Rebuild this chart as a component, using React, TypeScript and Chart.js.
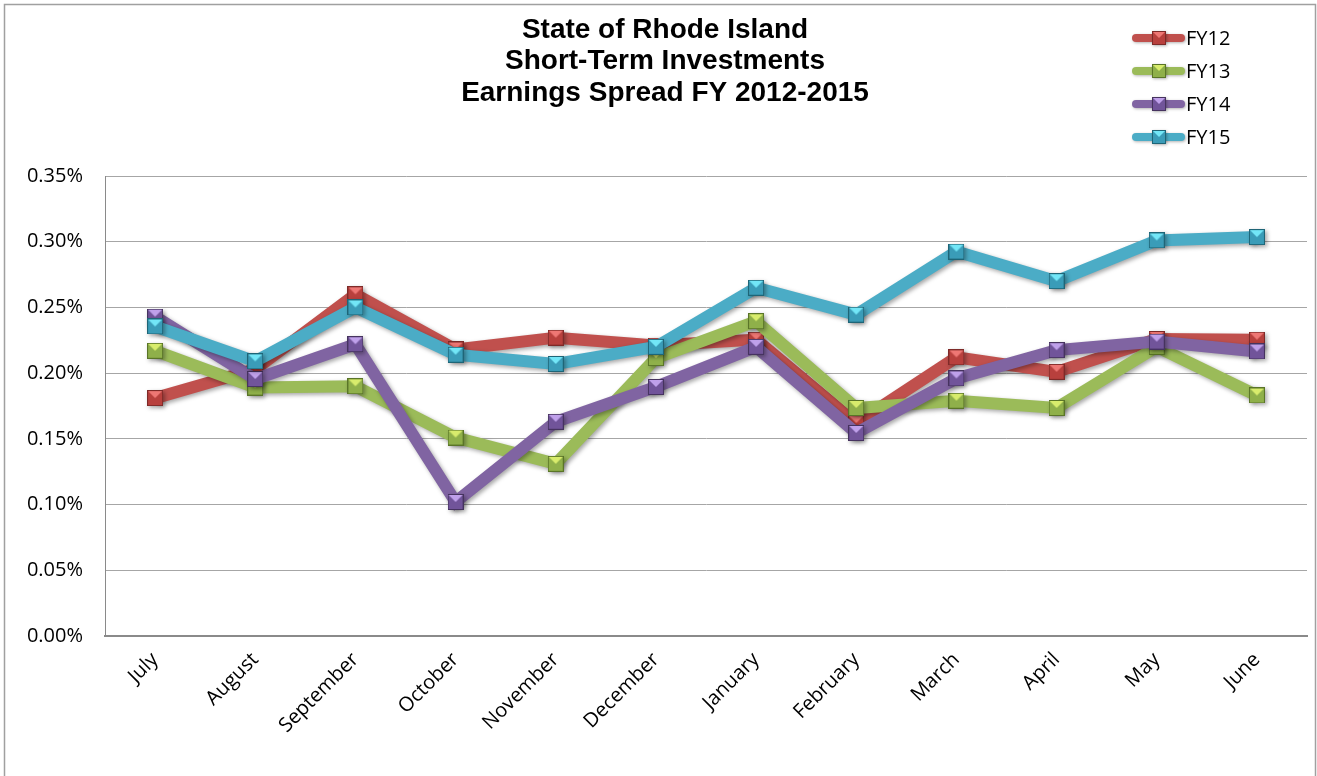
import React, { useEffect, useRef } from "react";
import { Chart, registerables } from "chart.js";

Chart.register(...registerables);

const months = ["July", "August", "September", "October", "November", "December", "January", "February", "March", "April", "May", "June"];
const seriesNames = ["FY12", "FY13", "FY14", "FY15"];
const fy12 = [0.181, 0.203, 0.26, 0.218, 0.227, 0.221, 0.2255, 0.162, 0.212, 0.201, 0.226, 0.2255];
const fy13 = [0.217, 0.189, 0.19, 0.151, 0.131, 0.2115, 0.2395, 0.1735, 0.179, 0.1735, 0.22, 0.183];
const fy14 = [0.243, 0.1955, 0.222, 0.102, 0.163, 0.1895, 0.22, 0.1545, 0.196, 0.2175, 0.224, 0.2165];
const fy15 = [0.2355, 0.209, 0.25, 0.214, 0.207, 0.22, 0.265, 0.2445, 0.2925, 0.27, 0.301, 0.3035];
const titleLines = ["State of Rhode Island", "Short-Term Investments", "Earnings Spread FY 2012-2015"];

const lineColors = ["#C0504D", "#9BBB59", "#8064A2", "#4BACC6"];
const lightColors = ["#EE7774", "#D8EC6C", "#BFA0EA", "#72E6F7"];
const baseColors = ["#B8403D", "#8FB04A", "#71549A", "#3A9CB8"];
const darkColors = ["#7E2A28", "#5A7528", "#46335F", "#1E6577"];

function makeMarker(i: number, size: number) {
  const c = document.createElement("canvas");
  c.width = size;
  c.height = size;
  const g = c.getContext("2d")!;
  g.fillStyle = baseColors[i];
  g.fillRect(0, 0, size, size);
  g.fillStyle = lightColors[i];
  g.beginPath();
  g.moveTo(1, 1);
  g.lineTo(size - 1, 1);
  g.lineTo(size / 2, size / 2);
  g.closePath();
  g.fill();
  g.strokeStyle = darkColors[i];
  g.lineWidth = 1;
  g.strokeRect(0.5, 0.5, size - 1, size - 1);
  return c;
}

export default function App() {
  const ref = useRef<HTMLCanvasElement>(null);
  useEffect(() => {
    document.body.style.margin = "0";
    const markers = [0, 1, 2, 3].map((i) => makeMarker(i, 16));
    const legendMarkers = [0, 1, 2, 3].map((i) => makeMarker(i, 14));
    const values = [fy12, fy13, fy14, fy15];

    const decor = {
      id: "decor",
      beforeDraw(chart: any) {
        const ctx = chart.ctx;
        ctx.save();
        ctx.fillStyle = "#ffffff";
        ctx.fillRect(0, 0, chart.width, chart.height);
        ctx.strokeStyle = "#a0a0a0";
        ctx.lineWidth = 1.5;
        ctx.strokeRect(4.5, 4.5, 1311, 800);
        ctx.restore();
      },
      beforeDatasetsDraw(chart: any) {
        const ctx = chart.ctx;
        ctx.save();
        ctx.shadowColor = "rgba(0,0,0,0.35)";
        ctx.shadowBlur = 4;
        ctx.shadowOffsetX = 2;
        ctx.shadowOffsetY = 2;
      },
      afterDatasetsDraw(chart: any) {
        chart.ctx.restore();
      },
      afterDraw(chart: any) {
        const ctx = chart.ctx;
        ctx.save();
        ctx.fillStyle = "#000";
        ctx.textAlign = "center";
        ctx.textBaseline = "alphabetic";
        ctx.font = "bold 28px 'Liberation Sans', Arial, sans-serif";
        const bases = [37.5, 69, 101];
        titleLines.forEach((t, k) => ctx.fillText(t, 665, bases[k]));
        // legend
        seriesNames.forEach((name, i) => {
          const y = 38 + 33 * i;
          ctx.save();
          ctx.shadowColor = "rgba(0,0,0,0.3)";
          ctx.shadowBlur = 3;
          ctx.shadowOffsetX = 1;
          ctx.shadowOffsetY = 1;
          ctx.strokeStyle = lineColors[i];
          ctx.lineWidth = 8;
          ctx.lineCap = "round";
          ctx.beginPath();
          ctx.moveTo(1136, y);
          ctx.lineTo(1181, y);
          ctx.stroke();
          ctx.drawImage(legendMarkers[i], 1152, y - 7);
          ctx.restore();
          ctx.fillStyle = "#000";
          ctx.textAlign = "left";
          ctx.textBaseline = "middle";
          ctx.font = "20px 'Open Sans', sans-serif";
          ctx.fillText(name, 1186, y + 1);
        });
        ctx.restore();
      },
    };

    const chart = new Chart(ref.current!, {
      type: "line",
      data: {
        labels: months,
        datasets: seriesNames.map((name, i) => ({
          label: name,
          data: values[i],
          borderColor: lineColors[i],
          backgroundColor: lineColors[i],
          borderWidth: 12,
          pointStyle: markers[i] as any,
          pointRadius: 8,
          pointHoverRadius: 8,
          tension: 0,
          fill: false,
          order: 4 - i,
        })),
      },
      options: {
        responsive: false,
        animation: false,
        layout: { autoPadding: false, padding: { top: 176, right: 10, left: 0, bottom: 0 } },
        plugins: {
          legend: { display: false },
          title: { display: false },
          tooltip: { enabled: false },
        },
        scales: {
          x: {
            offset: true,
            grid: { display: false, drawTicks: false },
            border: { display: true, color: "#8a8a8a", width: 2 },
            ticks: {
              maxRotation: 45,
              minRotation: 45,
              padding: 12,
              color: "#000",
              font: { family: "'Open Sans', sans-serif", size: 20 },
            },
            afterFit(scale: any) {
              scale.height = 140;
            },
          },
          y: {
            min: 0,
            max: 0.35,
            grid: { color: "#a6a6a6", lineWidth: 1, drawTicks: false },
            border: { display: true, color: "#8a8a8a", width: 1 },
            ticks: {
              stepSize: 0.05,
              padding: 22,
              color: "#000",
              font: { family: "'Open Sans', sans-serif", size: 20 },
              callback: (v: any) => Number(v).toFixed(2) + "%",
            },
            afterFit(scale: any) {
              scale.width = 105;
            },
          },
        },
      },
      plugins: [decor],
    });
    return () => chart.destroy();
  }, []);
  return (
    <div style={{ position: "absolute", left: 0, top: 0, width: 1317, height: 776 }}>
      <canvas ref={ref} width={1317} height={776} />
    </div>
  );
}
